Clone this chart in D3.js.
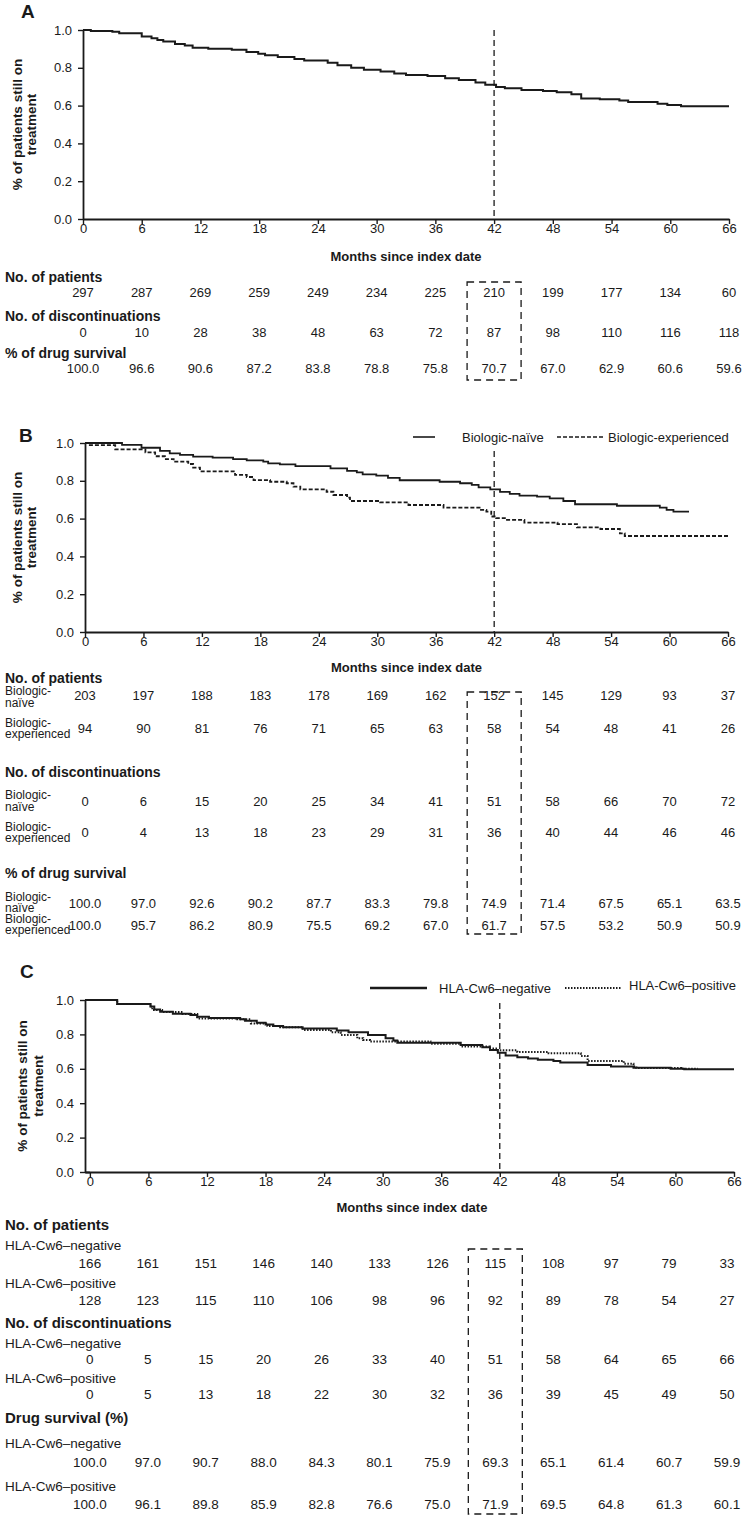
<!DOCTYPE html>
<html><head><meta charset="utf-8">
<script src="https://cdn.jsdelivr.net/npm/d3@7"></script>
<style>
body{margin:0;background:#fff}
svg{display:block}
text{font-family:"Liberation Sans",Arial,Helvetica,sans-serif;fill:#1a1a1a}
</style>
</head><body>
<svg id="chart" width="743" height="1525"></svg>
<script>
// ---------- data ----------
const months = [0, 6, 12, 18, 24, 30, 36, 42, 48, 54, 60, 66];
const yTicks = [0, 0.2, 0.4, 0.6, 0.8, 1.0];

// Panel A table
const patientsA = [297, 287, 269, 259, 249, 234, 225, 210, 199, 177, 134, 60];
const discA = [0, 10, 28, 38, 48, 63, 72, 87, 98, 110, 116, 118];
const survA = ["100.0", "96.6", "90.6", "87.2", "83.8", "78.8", "75.8", "70.7", "67.0", "62.9", "60.6", "59.6"];

// Panel A curve
const curveA_t = [0, 0.8, 3.0, 3.7, 6.0, 7.0, 7.6, 8.2, 9.4, 10.4, 11.2, 12.8, 15.2, 16.7, 17.9, 18.6, 19.9, 21.6, 22.6, 25.0, 26.0, 27.4, 28.7, 30.4, 31.8, 33.0, 35.2, 37.0, 38.4, 40.1, 41.1, 42.2, 43.1, 44.8, 47.0, 48.4, 49.9, 50.9, 52.8, 54.8, 55.7, 58.7, 59.7, 61.1, 66];
const curveA_s = [1.0, 0.995, 0.991, 0.983, 0.966, 0.956, 0.947, 0.939, 0.926, 0.918, 0.906, 0.901, 0.896, 0.884, 0.875, 0.866, 0.857, 0.846, 0.839, 0.827, 0.814, 0.8, 0.79, 0.781, 0.77, 0.762, 0.757, 0.745, 0.736, 0.722, 0.71, 0.698, 0.692, 0.682, 0.677, 0.67, 0.66, 0.638, 0.634, 0.627, 0.619, 0.61, 0.603, 0.596, 0.596];

// Panel B table
const seriesB = ["Biologic-naïve", "Biologic-experienced"];
const patientsNaive = [203, 197, 188, 183, 178, 169, 162, 152, 145, 129, 93, 37];
const patientsExp = [94, 90, 81, 76, 71, 65, 63, 58, 54, 48, 41, 26];
const discNaive = [0, 6, 15, 20, 25, 34, 41, 51, 58, 66, 70, 72];
const discExp = [0, 4, 13, 18, 23, 29, 31, 36, 40, 44, 46, 46];
const survNaive = ["100.0", "97.0", "92.6", "90.2", "87.7", "83.3", "79.8", "74.9", "71.4", "67.5", "65.1", "63.5"];
const survExp = ["100.0", "95.7", "86.2", "80.9", "75.5", "69.2", "67.0", "61.7", "57.5", "53.2", "50.9", "50.9"];

// Panel B curves
const naive_t = [0, 3.8, 5.8, 7.7, 8.7, 9.75, 11.1, 13.1, 15.2, 16.6, 18.3, 18.8, 20.0, 21.6, 25.2, 26.9, 27.9, 28.5, 29.9, 31.1, 32.3, 36.4, 38.5, 39.7, 40.4, 41.6, 42.6, 43.6, 44.6, 46.4, 47.7, 49.1, 50.3, 54.6, 59.0, 59.7, 60.4, 62.0];
const naive_s = [1.0, 0.99, 0.975, 0.958, 0.945, 0.937, 0.928, 0.923, 0.915, 0.908, 0.901, 0.892, 0.887, 0.878, 0.866, 0.853, 0.845, 0.834, 0.827, 0.815, 0.803, 0.795, 0.787, 0.778, 0.765, 0.755, 0.741, 0.731, 0.722, 0.716, 0.707, 0.693, 0.676, 0.668, 0.658, 0.646, 0.637, 0.637];
const exp_t = [0, 0.3, 3.1, 6.2, 7.2, 8.2, 9.1, 10.6, 11.1, 11.8, 15.4, 16.6, 17.3, 19.0, 20.7, 21.4, 22.1, 24.8, 25.5, 26.9, 27.2, 30.3, 33.2, 36.8, 40.5, 41.2, 41.7, 42.2, 43.2, 45.1, 48.5, 50.5, 52.9, 54.9, 55.4, 66];
const exp_s = [1.0, 0.989, 0.966, 0.95, 0.93, 0.915, 0.901, 0.889, 0.87, 0.85, 0.831, 0.82, 0.804, 0.795, 0.787, 0.769, 0.755, 0.742, 0.725, 0.711, 0.693, 0.686, 0.672, 0.658, 0.646, 0.637, 0.611, 0.602, 0.593, 0.579, 0.571, 0.554, 0.545, 0.522, 0.508, 0.508];

// Panel C table
const seriesC = ["HLA-Cw6\u2013negative", "HLA-Cw6\u2013positive"];
const patientsNeg = [166, 161, 151, 146, 140, 133, 126, 115, 108, 97, 79, 33];
const patientsPos = [128, 123, 115, 110, 106, 98, 96, 92, 89, 78, 54, 27];
const discNeg = [0, 5, 15, 20, 26, 33, 40, 51, 58, 64, 65, 66];
const discPos = [0, 5, 13, 18, 22, 30, 32, 36, 39, 45, 49, 50];
const survNeg = ["100.0", "97.0", "90.7", "88.0", "84.3", "80.1", "75.9", "69.3", "65.1", "61.4", "60.7", "59.9"];
const survPos = ["100.0", "96.1", "89.8", "85.9", "82.8", "76.6", "75.0", "71.9", "69.5", "64.8", "61.3", "60.1"];

// Panel C curves
const neg_t = [0, 2.8, 6.2, 6.6, 7.2, 8.5, 10.3, 11.0, 12.2, 15.4, 15.9, 17.1, 18.0, 18.8, 19.8, 21.8, 25.3, 26.5, 28.5, 30.3, 31.1, 31.5, 38.0, 40.2, 41.0, 41.8, 42.6, 43.8, 44.9, 45.9, 47.5, 48.2, 51.0, 53.4, 55.7, 59.5, 60.9, 66];
const neg_s = [1.0, 0.977, 0.962, 0.945, 0.932, 0.92, 0.913, 0.903, 0.895, 0.888, 0.88, 0.868, 0.858, 0.849, 0.841, 0.835, 0.823, 0.812, 0.797, 0.777, 0.764, 0.752, 0.738, 0.725, 0.71, 0.693, 0.678, 0.667, 0.66, 0.652, 0.645, 0.636, 0.622, 0.614, 0.606, 0.601, 0.597, 0.597];
const pos_t = [0, 2.8, 6.2, 6.4, 7.4, 9.5, 11.0, 15.1, 16.5, 18.2, 19.5, 21.8, 24.7, 25.7, 27.4, 28.0, 28.7, 34.9, 38.0, 41.0, 41.8, 43.8, 47.0, 50.3, 51.0, 54.7, 55.7, 56.0, 60.6, 62.3];
const pos_s = [1.0, 0.977, 0.962, 0.942, 0.93, 0.918, 0.893, 0.888, 0.864, 0.849, 0.841, 0.826, 0.812, 0.797, 0.777, 0.767, 0.758, 0.745, 0.73, 0.718, 0.708, 0.698, 0.69, 0.675, 0.646, 0.63, 0.614, 0.605, 0.6, 0.6];

// ---------- drawing ----------
const svg = d3.select("#chart");
const INK = "#1a1a1a";

function text(x, y, str, opts = {}) {
  const t = svg.append("text").attr("x", x).attr("y", y).text(str)
    .attr("font-size", opts.size || 13)
    .attr("text-anchor", opts.anchor || "start");
  if (opts.bold) t.attr("font-weight", "bold");
  return t;
}

function panel(p) {
  const x = d3.scaleLinear().domain([p.xStart, 66]).range([p.left, p.right]);
  const y = d3.scaleLinear().domain([0, 1]).range([p.bottom, p.top]);
  // table column positions (aligned under the ticks)
  const xt = d3.scaleLinear().domain([0, 66]).range([x(0), p.tableRight || x(66)]);

  text(p.letterX, p.letterY, p.letter, {size: 19, bold: true});

  const gx = svg.append("g").attr("transform", `translate(0,${p.bottom})`)
    .call(d3.axisBottom(x).tickValues(months).tickFormat(d => d).tickSize(5).tickSizeOuter(0).tickPadding(0));
  const gy = svg.append("g").attr("transform", `translate(${p.left},0)`)
    .call(d3.axisLeft(y).tickValues(yTicks).tickFormat(d3.format(".1f")).tickSize(5).tickSizeOuter(0).tickPadding(6));
  [gx, gy].forEach(g => {
    g.attr("font-family", null).attr("font-size", 13);
    g.selectAll("path.domain").attr("stroke", INK).attr("stroke-width", 1.8);
    g.selectAll(".tick line").attr("stroke", INK).attr("stroke-width", 1.4);
    g.selectAll(".tick text").attr("fill", INK);
  });
  if (p.xStart < 0) {
    svg.append("line").attr("x1", p.left).attr("x2", x(0)).attr("y1", p.bottom + 0.5).attr("y2", p.bottom + 0.5)
      .attr("stroke", INK).attr("stroke-width", 1.8);
  }

  // y-axis title
  const ty = (p.top + p.bottom) / 2;
  [["% of patients still on", p.yt1], ["treatment", p.yt2]].forEach(([s, cx]) => {
    svg.append("text").attr("transform", `translate(${cx},${ty}) rotate(-90)`)
      .attr("text-anchor", "middle").attr("dy", "0.35em")
      .attr("font-size", 13.5).attr("font-weight", "bold").text(s);
  });
  // x-axis title
  text((x(0) + x(66)) / 2, p.xTitleY, "Months since index date", {size: 13, bold: true, anchor: "middle"});

  // vertical 42-month reference line
  svg.append("line").attr("x1", x(42)).attr("x2", x(42)).attr("y1", p.vTop).attr("y2", p.bottom)
    .attr("stroke", INK).attr("stroke-width", 1.3).attr("stroke-dasharray", "6,4");

  // curves
  const line = d3.line().x(d => x(d[0])).y(d => y(d[1])).curve(d3.curveStepAfter);
  p.curves.forEach(c => {
    let pts = c.t.map((t, i) => [t, c.s[i]]);
    if (p.xStart < 0) pts = [[p.xStart, c.s[0]]].concat(pts);
    svg.append("path").attr("d", line(pts)).attr("fill", "none")
      .attr("stroke", INK).attr("stroke-width", c.w || 1.8)
      .attr("stroke-dasharray", c.dash || null);
  });

  // legend
  if (p.legend) {
    p.legend.forEach(l => {
      svg.append("line").attr("x1", l.x1).attr("x2", l.x2).attr("y1", l.y).attr("y2", l.y)
        .attr("stroke", INK).attr("stroke-width", l.w || 1.6).attr("stroke-dasharray", l.dash || null);
      text(l.tx, l.ty, l.label, {size: 13});
    });
  }

  // table
  p.rows.forEach(r => {
    if (r.header) { text(5, r.y, r.header, {size: r.size || 14, bold: true}); return; }
    if (r.label) r.label.forEach((ln, i) => text(5, r.labelY[i], ln, {size: r.labelSize || 12}));
    r.values.forEach((v, i) => text(xt(months[i]), r.y, v, {size: r.size || 13, anchor: "middle"}));
  });

  // dashed box around 42-month column
  svg.append("rect").attr("x", xt(42) - 27).attr("y", p.boxTop).attr("width", 54).attr("height", p.boxBottom - p.boxTop)
    .attr("fill", "none").attr("stroke", INK).attr("stroke-width", 1.3).attr("stroke-dasharray", "7,5");
}

// Panel A
panel({
  letter: "A", letterX: 21, letterY: 18,
  xStart: 0, left: 83, right: 729, top: 30, bottom: 219,
  yt1: 17, yt2: 31, xTitleY: 261, vTop: 30,
  curves: [{t: curveA_t, s: curveA_s, w: 2}],
  rows: [
    {header: "No. of patients", y: 282},
    {values: patientsA, y: 297},
    {header: "No. of discontinuations", y: 321},
    {values: discA, y: 337},
    {header: "% of drug survival", y: 358},
    {values: survA, y: 373}
  ],
  boxTop: 282, boxBottom: 380
});

// Panel B
panel({
  letter: "B", letterX: 19, letterY: 442,
  xStart: 0, left: 85, right: 728, top: 443, bottom: 632,
  yt1: 17, yt2: 31, xTitleY: 672, vTop: 451,
  curves: [{t: naive_t, s: naive_s, w: 1.8}, {t: exp_t, s: exp_s, w: 1.8, dash: "4,2"}],
  legend: [
    {x1: 413, x2: 435, y: 437, tx: 462, ty: 442, label: seriesB[0]},
    {x1: 557, x2: 603, y: 437, tx: 608, ty: 442, label: seriesB[1], dash: "4,2"}
  ],
  rows: [
    {header: "No. of patients", y: 683},
    {label: ["Biologic-", "naïve"], labelY: [695, 707], values: patientsNaive, y: 700},
    {label: ["Biologic-", "experienced"], labelY: [727, 738], values: patientsExp, y: 733},
    {header: "No. of discontinuations", y: 777},
    {label: ["Biologic-", "naïve"], labelY: [799, 811], values: discNaive, y: 806},
    {label: ["Biologic-", "experienced"], labelY: [831, 842], values: discExp, y: 837},
    {header: "% of drug survival", y: 878},
    {label: ["Biologic-", "naïve"], labelY: [901, 912], values: survNaive, y: 908},
    {label: ["Biologic-", "experienced"], labelY: [923, 934], values: survExp, y: 930}
  ],
  boxTop: 692, boxBottom: 934
});

// Panel C
panel({
  letter: "C", letterX: 20, letterY: 978,
  xStart: -0.5, left: 85, right: 734, top: 1000, bottom: 1172, tableRight: 727,
  yt1: 22, yt2: 38, xTitleY: 1212, vTop: 1003,
  curves: [{t: neg_t, s: neg_s, w: 2}, {t: pos_t, s: pos_s, w: 2, dash: "1.5,1.5"}],
  legend: [
    {x1: 370, x2: 427, y: 988, tx: 439, ty: 993, label: seriesC[0], w: 2.5},
    {x1: 565, x2: 622, y: 988, tx: 629, ty: 990, label: seriesC[1], w: 2, dash: "1.5,1.5"}
  ],
  rows: [
    {header: "No. of patients", y: 1230, size: 15},
    {label: [seriesC[0]], labelY: [1250], labelSize: 13.5, values: patientsNeg, y: 1268, size: 13.5},
    {label: [seriesC[1]], labelY: [1288], labelSize: 13.5, values: patientsPos, y: 1305, size: 13.5},
    {header: "No. of discontinuations", y: 1328, size: 15},
    {label: [seriesC[0]], labelY: [1348], labelSize: 13.5, values: discNeg, y: 1364, size: 13.5},
    {label: [seriesC[1]], labelY: [1383], labelSize: 13.5, values: discPos, y: 1399, size: 13.5},
    {header: "Drug survival (%)", y: 1423, size: 15},
    {label: [seriesC[0]], labelY: [1448], labelSize: 13.5, values: survNeg, y: 1467, size: 13.5},
    {label: [seriesC[1]], labelY: [1491], labelSize: 13.5, values: survPos, y: 1509, size: 13.5}
  ],
  boxTop: 1249, boxBottom: 1514
});
</script>
</body></html>
